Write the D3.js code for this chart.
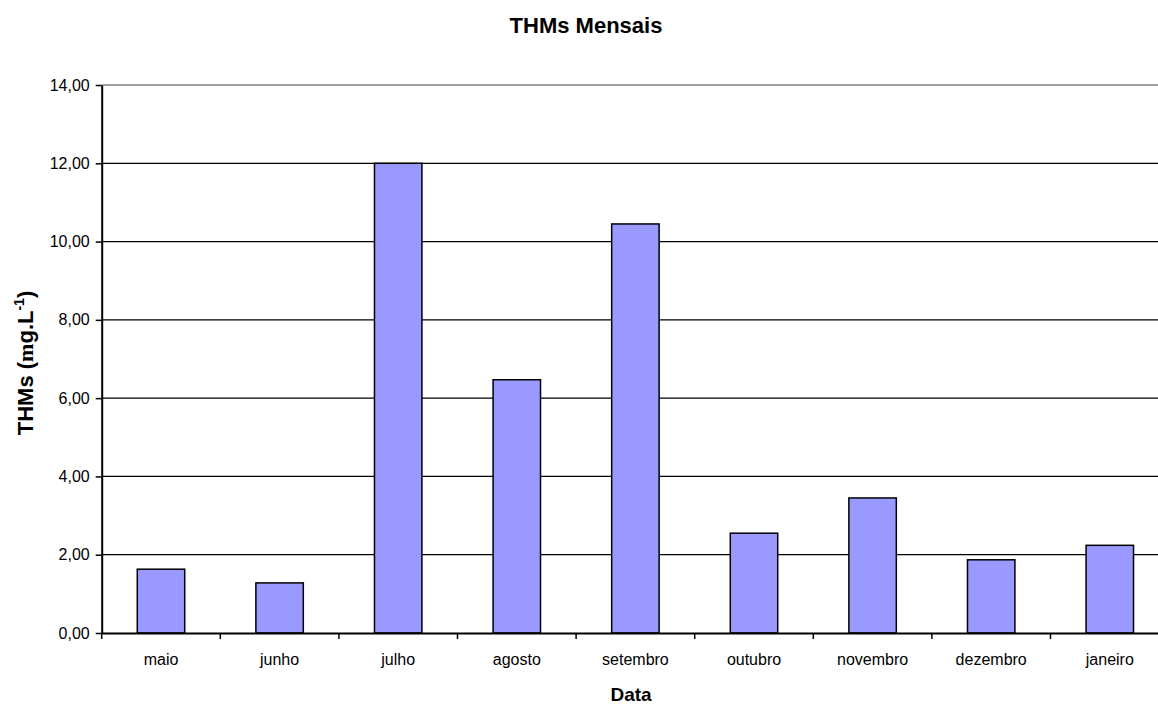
<!DOCTYPE html>
<html>
<head>
<meta charset="utf-8">
<script src="https://cdn.jsdelivr.net/npm/d3@7"></script>
<style>
  body { margin: 0; background: #fff; }
  svg { display: block; font-family: "Liberation Sans", Arial, sans-serif; }
</style>
</head>
<body>
<div id="chart"></div>
<script>
const months = ['maio', 'junho', 'julho', 'agosto', 'setembro', 'outubro', 'novembro', 'dezembro', 'janeiro'];
const thms = [1.63, 1.28, 12.0, 6.47, 10.45, 2.55, 3.45, 1.87, 2.24];
const yTicks = [0, 2, 4, 6, 8, 10, 12, 14];

const W = 1158, H = 704;
const plotLeft = 101.7, plotTop = 85, plotBottom = 633;
const band = 118.6;

const svg = d3.select('#chart').append('svg')
    .attr('width', W)
    .attr('height', H);

const x = d3.scaleBand()
    .domain(months)
    .range([plotLeft, plotLeft + band * months.length])
    .paddingInner(0.6)
    .paddingOuter(0.3);
const xb = d3.scaleBand().domain(months).range(x.range());
const y = d3.scaleLinear().domain([0, 14]).range([plotBottom, plotTop]);

const fmt = d => d3.format('.2f')(d).replace('.', ',');

// grid lines
svg.append('g').selectAll('line')
    .data(yTicks.filter(d => d > 0 && d < 14))
    .enter().append('line')
    .attr('x1', plotLeft).attr('x2', W)
    .attr('y1', d => y(d)).attr('y2', d => y(d))
    .attr('stroke', '#000').attr('stroke-width', 1.2);

// plot border top
svg.append('line')
    .attr('x1', plotLeft).attr('x2', W)
    .attr('y1', y(14)).attr('y2', y(14))
    .attr('stroke', '#808080').attr('stroke-width', 1.5);

// bars
svg.append('g').selectAll('rect')
    .data(thms)
    .enter().append('rect')
    .attr('x', (d, i) => x(months[i]))
    .attr('y', d => y(d))
    .attr('width', x.bandwidth())
    .attr('height', d => plotBottom - y(d))
    .attr('fill', '#9999ff')
    .attr('stroke', '#000')
    .attr('stroke-width', 1.5);

// y axis
const yAxis = d3.axisLeft(y).tickValues(yTicks).tickFormat(fmt).tickSize(6).tickSizeOuter(0);
const gy = svg.append('g')
    .attr('transform', `translate(${plotLeft},0)`)
    .call(yAxis);
gy.select('.domain').attr('stroke', '#000').attr('stroke-width', 2);
gy.selectAll('.tick line').attr('stroke', '#000').attr('stroke-width', 1.5);
gy.selectAll('.tick text').attr('font-size', 16).attr('fill', '#000').attr('x', -12);
gy.attr('font-family', null);

// x axis
const xAxis = d3.axisBottom(xb).tickSize(0).tickSizeOuter(0);
const gx = svg.append('g')
    .attr('transform', `translate(0,${plotBottom})`)
    .call(xAxis);
gx.select('.domain').attr('stroke', '#000').attr('stroke-width', 2);
gx.selectAll('.tick text').attr('font-size', 16).attr('fill', '#000').attr('y', 21);
gx.attr('font-family', null);
// tick marks between categories
gx.append('g').selectAll('line')
    .data(d3.range(months.length + 1))
    .enter().append('line')
    .attr('x1', i => plotLeft + i * band).attr('x2', i => plotLeft + i * band)
    .attr('y1', 0).attr('y2', 6)
    .attr('stroke', '#000').attr('stroke-width', 1.5);

// titles
svg.append('text')
    .attr('x', 586).attr('y', 33)
    .attr('text-anchor', 'middle')
    .attr('font-weight', 'bold')
    .attr('font-size', 22)
    .text('THMs Mensais');

svg.append('text')
    .attr('x', 631).attr('y', 701)
    .attr('text-anchor', 'middle')
    .attr('font-weight', 'bold')
    .attr('font-size', 19)
    .text('Data');

const yl = svg.append('text')
    .attr('transform', 'translate(33,363) rotate(-90)')
    .attr('text-anchor', 'middle')
    .attr('font-weight', 'bold')
    .attr('font-size', 22);
yl.append('tspan').text('THMs (');
yl.append('tspan').attr('font-family', '"Liberation Serif", serif').text('m');
yl.append('tspan').text('g.L');
yl.append('tspan').attr('dy', -9).attr('font-size', 14).text('-1');
yl.append('tspan').attr('dy', 9).text(')');
</script>
</body>
</html>
